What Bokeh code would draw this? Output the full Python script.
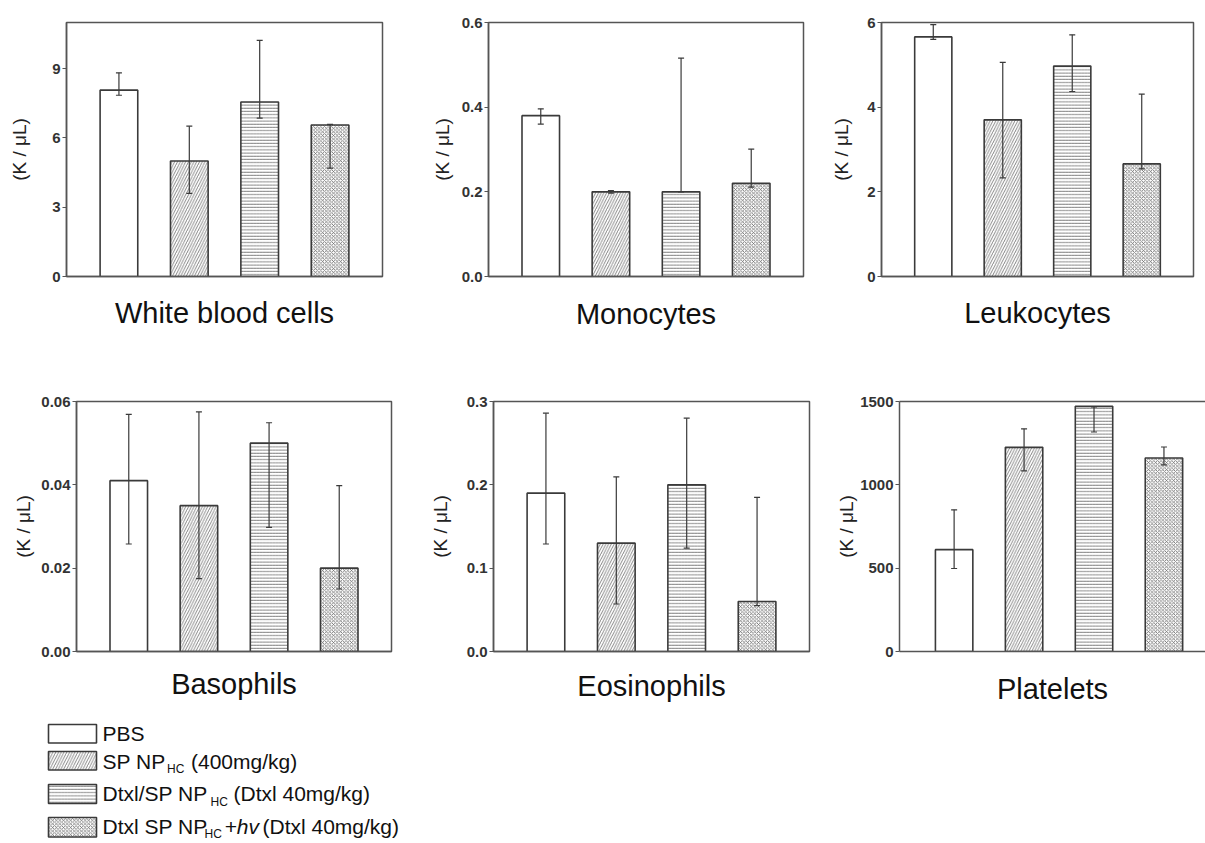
from bokeh.plotting import figure
from bokeh.models import Range1d, FixedTicker, PrintfTickFormatter, ColumnDataSource, Whisker, TeeHead, LinearAxis
from bokeh.layouts import column, row
from bokeh.embed import file_html
from bokeh.resources import INLINE
from bokeh.core.properties import value

# ---------------- data ----------------
group_pos = [1, 2, 3, 4]
group_hatch = [" ", "/", "-", "x"]
group_hatch_scale = [4, 5.5, 3.2, 3.6]

panel_titles = ["White blood cells", "Monocytes", "Leukocytes", "Basophils", "Eosinophils", "Platelets"]
y_label = "(K / \u03bcL)"

wbc_mean = [8.07, 5.00, 7.56, 6.56]
wbc_lo = [7.85, 3.60, 6.86, 4.69]
wbc_hi = [8.82, 6.51, 10.23, 6.59]

mono_mean = [0.380, 0.200, 0.200, 0.220]
mono_lo = [0.360, 0.197, 0.200, 0.211]
mono_hi = [0.396, 0.203, 0.516, 0.301]

leuko_mean = [5.66, 3.70, 4.97, 2.66]
leuko_lo = [5.60, 2.33, 4.37, 2.54]
leuko_hi = [5.95, 5.06, 5.71, 4.31]

baso_mean = [0.041, 0.035, 0.050, 0.020]
baso_lo = [0.0258, 0.0175, 0.0298, 0.0150]
baso_hi = [0.0569, 0.0575, 0.0549, 0.0398]

eos_mean = [0.190, 0.130, 0.200, 0.060]
eos_lo = [0.129, 0.057, 0.124, 0.055]
eos_hi = [0.286, 0.2095, 0.280, 0.185]

plt_mean = [611, 1225, 1471, 1161]
plt_lo = [498, 1084, 1317, 1120]
plt_hi = [850, 1336, 1468, 1227]

y_max = [11, 0.6, 6, 0.06, 0.3, 1500]
y_ticks = [[0, 3, 6, 9], [0, 0.2, 0.4, 0.6], [0, 2, 4, 6],
           [0, 0.02, 0.04, 0.06], [0, 0.1, 0.2, 0.3], [0, 500, 1000, 1500]]
y_fmt = ["%d", "%.1f", "%d", "%.2f", "%.1f", "%d"]

means = [wbc_mean, mono_mean, leuko_mean, baso_mean, eos_mean, plt_mean]
lows = [wbc_lo, mono_lo, leuko_lo, baso_lo, eos_lo, plt_lo]
highs = [wbc_hi, mono_hi, leuko_hi, baso_hi, eos_hi, plt_hi]

legend_main = ["PBS", "SP NP", "Dtxl/SP NP", "Dtxl SP NP"]
legend_sub = ["", "HC", "HC", "HC"]
legend_italic = ["", "", "", "+hv"]
legend_tail = ["", "(400mg/kg)", "(Dtxl 40mg/kg)", "(Dtxl 40mg/kg)"]

# ---------------- layout config ----------------
FONT_NAME = "Liberation Sans"
FONT = value(FONT_NAME)
LINE = "#3a3a3a"
FRAME = "#555555"

cfg = [
    dict(w=420, h=345, l=66, r=38, t=22, b=67, x0=0.255, x1=4.745, ys=19, ts=20),
    dict(w=408, h=345, l=68, r=25, t=20, b=69, x0=0.255, x1=4.745, ys=6, ts=21),
    dict(w=377, h=345, l=49, r=12, t=22, b=67, x0=0.255, x1=4.745, ys=12, ts=20),
    dict(w=425, h=365, l=76, r=34, t=56, b=55, x0=0.255, x1=4.745, ys=4, ts=16),
    dict(w=408, h=365, l=68, r=24, t=54, b=56, x0=0.255, x1=4.745, ys=13, ts=18),
    dict(w=372, h=365, l=64, r=0, t=50, b=59, x0=0.219, x1=4.594, ys=0, ts=21),
]


def make_panel(i):
    c = cfg[i]
    last = (i == 5)
    p = figure(width=c["w"], height=c["h"], output_backend="svg", toolbar_location=None,
               x_range=Range1d(c["x0"], c["x1"]), y_range=Range1d(0, y_max[i]),
               min_border_left=c["l"], min_border_right=c["r"],
               min_border_top=c["t"], min_border_bottom=c["b"],
               background_fill_color="white", border_fill_color="white")
    p.xgrid.visible = False
    p.ygrid.visible = False
    xa = p.below[0]
    ya = p.left[0]
    if last:
        p.outline_line_color = None
        top_ax = LinearAxis(ticker=FixedTicker(ticks=[]), major_tick_out=0, major_tick_in=0,
                            minor_tick_line_color=None, axis_line_color=FRAME, axis_line_width=1.5,
                            major_label_text_font_size="0px")
        p.add_layout(top_ax, "above")
    else:
        p.outline_line_color = FRAME
        p.outline_line_width = 1.5
        p.outline_line_alpha = 1.0

    src = ColumnDataSource(dict(x=group_pos, top=means[i], lo=lows[i], hi=highs[i],
                                hatch=group_hatch, hscale=group_hatch_scale))
    p.vbar(x="x", top="top", bottom=0, width=0.535, source=src,
           fill_color="white", line_color=LINE, line_width=1.6,
           hatch_pattern="hatch", hatch_scale="hscale", hatch_color="#666666", hatch_weight=0.8)
    wk = Whisker(source=src, base="x", upper="hi", lower="lo",
                 line_color=LINE, line_width=1.2,
                 upper_head=TeeHead(size=6, line_color=LINE, line_width=1.2),
                 lower_head=TeeHead(size=6, line_color=LINE, line_width=1.2))
    wk.level = "overlay"
    p.add_layout(wk)

    ya.ticker = FixedTicker(ticks=y_ticks[i])
    ya.formatter = PrintfTickFormatter(format=y_fmt[i])
    ya.major_tick_out = 4
    ya.major_tick_in = 0
    ya.major_tick_line_color = FRAME
    ya.major_tick_line_width = 1.2
    ya.minor_tick_line_color = None
    ya.major_label_standoff = 2
    ya.major_label_text_font = FONT_NAME
    ya.major_label_text_font_size = "15px"
    ya.major_label_text_font_style = "bold"
    ya.major_label_text_color = "#333333"
    ya.axis_line_color = FRAME
    ya.axis_line_width = 1.5
    ya.axis_label = y_label
    ya.axis_label_text_font = FONT_NAME
    ya.axis_label_text_font_size = "19px"
    ya.axis_label_text_font_style = "normal"
    ya.axis_label_text_color = "#222222"
    ya.axis_label_standoff = c["ys"]

    xa.ticker = FixedTicker(ticks=[])
    xa.major_tick_out = 0
    xa.major_tick_in = 0
    xa.minor_tick_line_color = None
    xa.axis_line_color = FRAME
    xa.axis_line_width = 1.5
    xa.axis_label = panel_titles[i]
    xa.axis_label_text_font = FONT_NAME
    xa.axis_label_text_font_size = "29px"
    xa.axis_label_text_font_style = "normal"
    xa.axis_label_text_color = "#111111"
    xa.axis_label_standoff = c["ts"]
    return p


panels = [make_panel(i) for i in range(6)]

# ---------------- legend ----------------
lg = figure(width=460, height=133, output_backend="svg", toolbar_location=None,
            x_range=Range1d(0, 460), y_range=Range1d(843, 710),
            x_axis_location=None, y_axis_location=None, min_border=0,
            outline_line_color=None)
lg.xgrid.visible = False
lg.ygrid.visible = False

sw_top = [724, 751, 784, 817]
sw_bot = [742.5, 769.5, 803, 836.5]
base_y = [733, 760.5, 793, 825.5]
sub_x = [0, 166.5, 210, 204]
tail_x = [0, 190.5, 233, 262]
ital_x = [0, 0, 0, 224]

lsrc = ColumnDataSource(dict(top=sw_top, bottom=sw_bot, hatch=group_hatch, hscale=group_hatch_scale))
lg.quad(left=48, right=96, top="top", bottom="bottom", source=lsrc,
        fill_color="white", line_color=LINE, line_width=1.6,
        hatch_pattern="hatch", hatch_scale="hscale", hatch_color="#666666", hatch_weight=0.8)

lg.text(x=[102] * 4, y=base_y, text=legend_main, text_font=FONT, text_font_size="21px",
        text_baseline="alphabetic", text_align="left", text_color="#111111")
idx = [k for k in range(4) if legend_sub[k]]
lg.text(x=[sub_x[k] for k in idx], y=[base_y[k] + 8 for k in idx], text=[legend_sub[k] for k in idx],
        text_font=FONT, text_font_size="12px", text_baseline="alphabetic", text_align="left",
        text_color="#111111")
lg.text(x=[tail_x[k] for k in idx], y=[base_y[k] for k in idx], text=[legend_tail[k] for k in idx],
        text_font=FONT, text_font_size="21px", text_baseline="alphabetic", text_align="left",
        text_color="#111111")
idx2 = [k for k in range(4) if legend_italic[k]]
lg.text(x=[ital_x[k] for k in idx2], y=[base_y[k] for k in idx2], text=[legend_italic[k] for k in idx2],
        text_font=FONT, text_font_size="21px", text_font_style="italic", text_baseline="alphabetic",
        text_align="left", text_color="#111111")

layout = column(row(panels[0], panels[1], panels[2]), row(panels[3], panels[4], panels[5]), lg)

open("out.html", "w").write(file_html(layout, INLINE))
